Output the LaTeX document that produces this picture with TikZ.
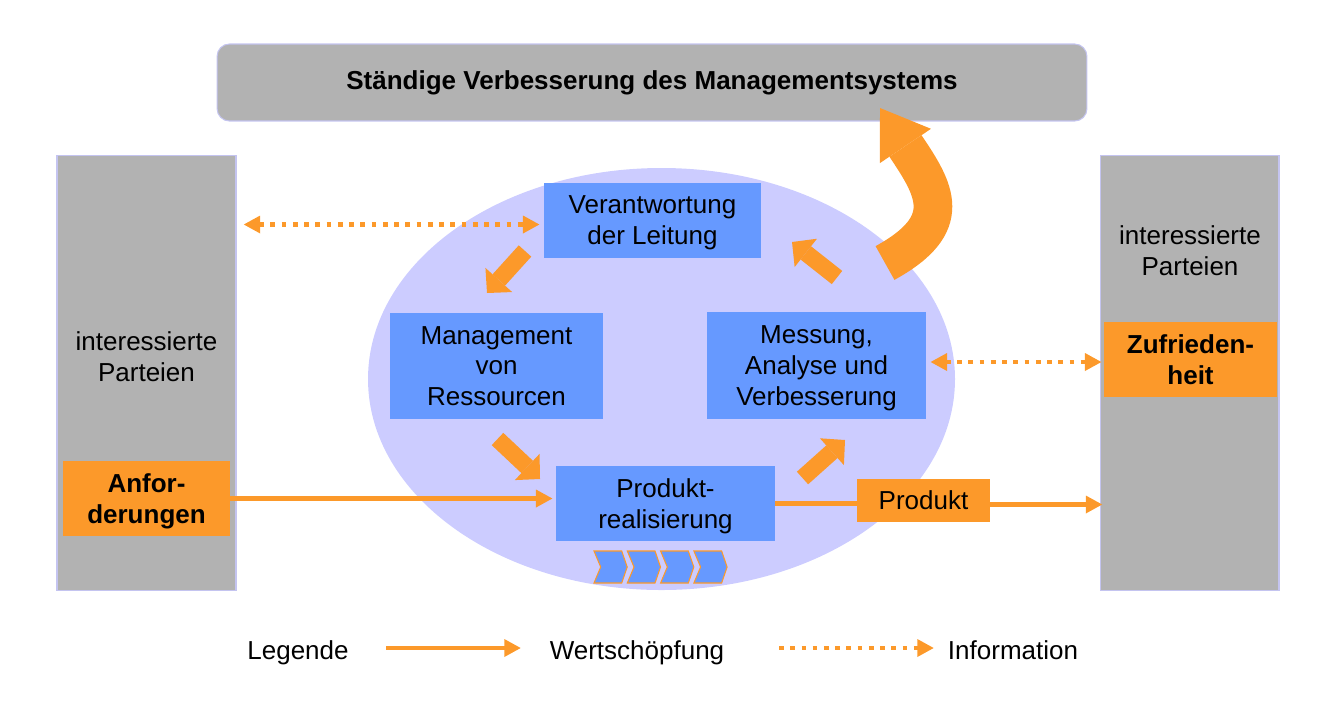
\documentclass[tikz,border=0pt]{standalone}
\usepackage{fontspec}
\setmainfont{Liberation Sans}
\usepackage{tikz}
\usetikzlibrary{arrows.meta,calc}
\definecolor{qmorange}{RGB}{252,153,42}
\definecolor{qmblue}{RGB}{102,153,255}
\definecolor{qmgray}{RGB}{178,178,178}
\definecolor{qmlilac}{RGB}{204,204,255}
\definecolor{qmedge}{RGB}{196,196,240}

\begin{document}
\begin{tikzpicture}[
  x=0.02cm, y=-0.02cm,
  font=\fontsize{14.8}{17.6}\selectfont,
  bar/.style={draw=qmedge,line width=0.6pt,fill=qmgray,inner sep=0pt},
  task/.style={fill=qmblue,minimum width=4.34cm,minimum height=1.5cm,
    align=center,inner sep=0pt,text depth=-2.5pt},
  tag/.style={fill=qmorange,minimum height=1.5cm,align=center,inner sep=0pt,
    text depth=-2pt,font=\fontsize{14.8}{17.6}\selectfont\bfseries},
  flow/.style={qmorange,line width=2.8pt,-{Triangle[length=9.5pt,width=9.5pt]}},
  dots/.style={qmorange,line width=2.7pt,dash pattern=on 2.7pt off 3.7pt},
  info/.style={dots,{Triangle[length=9.5pt,width=9.5pt]}-{Triangle[length=9.5pt,width=9.5pt]}},
  turn/.style={qmorange,line width=9.6pt,
    -{Triangle[length=10pt,width=20.5pt,line width=0pt]}},
  lift/.style={qmorange,line width=22pt,
    -{Triangle[length=26pt,width=35pt,line width=0pt]}}
]
  \useasboundingbox (0,0) rectangle (1334,707);

  % frame
  \node[bar,rounded corners=7pt,minimum width=17.4cm,minimum height=1.54cm,
    font=\fontsize{14.8}{17.6}\selectfont\bfseries] (title) at (652,82.5)
    {Ständige Verbesserung des Managementsystems};
  \node[bar,minimum width=3.58cm,minimum height=8.72cm] (lcol) at (146.5,373) {};
  \node[bar,minimum width=3.58cm,minimum height=8.72cm] (rcol) at (1189.5,373) {};
  \node[align=center] (lpart) at (146.5,357) {interessierte\\Parteien};
  \node[align=center] (rpart) at (1190,251) {interessierte\\Parteien};

  \fill[qmlilac] (661.5,379) ellipse [x radius=293.5, y radius=211];

  % processes
  \node[task] (verant) at (652.5,220.5) {Verantwortung\\der Leitung};
  \node[task,minimum width=4.26cm,minimum height=2.12cm] (mgmt) at (496.5,366)
    {Management\\von\\Ressourcen};
  \node[task,minimum width=4.38cm,minimum height=2.14cm] (mess) at (816.5,365.5)
    {Messung,\\Analyse und\\Verbesserung};
  \node[task,minimum width=4.38cm] (prod) at (665.5,503.5) {Produkt-\\realisierung};

  \foreach \i in {0,...,3}
    \draw[qmorange,line width=0.6pt,fill=qmblue] ({594+33.3*\i},551) -- ++(27.7,0)
      -- ++(5.5,16) -- ++(-5.5,16) -- ++(-27.7,0) -- ++(6.7,-16) -- cycle;

  \node[tag,minimum width=3.34cm] (anf) at (146.5,498.5) {Anfor-\\derungen};
  \node[tag,minimum width=3.46cm] (zufr) at (1190.5,359.5) {Zufrieden-\\heit};
  \node[tag,minimum width=2.66cm,minimum height=0.86cm,text depth=,
    font=\fontsize{14.8}{17.6}\selectfont] (produkt) at (923.5,500.5) {Produkt};

  % cycle
  \coordinate (t1a) at (525,251);   \coordinate (t1b) at (487,293);
  \coordinate (t2a) at (497.5,439); \coordinate (t2b) at (540,479);
  \coordinate (t3a) at (802.5,478); \coordinate (t3b) at (845,440);
  \coordinate (t4a) at (837,277.5); \coordinate (t4b) at (792,242);
  \draw[turn] (t1a) -- (t1b);
  \draw[turn] (t2a) -- (t2b);
  \draw[turn] (t3a) -- (t3b);
  \draw[turn] (t4a) -- (t4b);

  \coordinate (up0) at (885,263);
  \coordinate (up1) at (880,108);
  \draw[lift] (up0) .. controls (956,224) and (935,190) .. (up1);

  % value and information
  \draw[flow] (anf.east) -- ($(anf.east -| prod.west)+(-3,0)$);
  \draw[qmorange,line width=2.8pt] (prod.east) -- (prod.east -| produkt.west);
  \draw[flow] ($(produkt.east)+(0,4)$) -- ($(produkt.east -| rcol.west)+(3,4)$);
  \draw[info] ($(lcol.east |- verant.west)+(7,4)$) -- ($(verant.west)+(-4,4)$);
  \draw[info] ($(mess.east)+(4,-3.5)$) -- ($(mess.east -| zufr.west)+(-2,-3.5)$);

  % legend
  \node[anchor=base] (leg) at (298,659.5) {Legende};
  \node[anchor=base] (lws) at (637,659.5) {Wertschöpfung};
  \node[anchor=base] (linf) at (1013,659.5) {Information};
  \coordinate (ws0) at (386,648); \coordinate (ws1) at (521,648);
  \coordinate (in0) at (779,648); \coordinate (in1) at (934,648);
  \draw[flow] (ws0) -- (ws1);
  \draw[dots,-{Triangle[length=9.5pt,width=9.5pt]}] (in0) -- (in1);
\end{tikzpicture}
\end{document}
